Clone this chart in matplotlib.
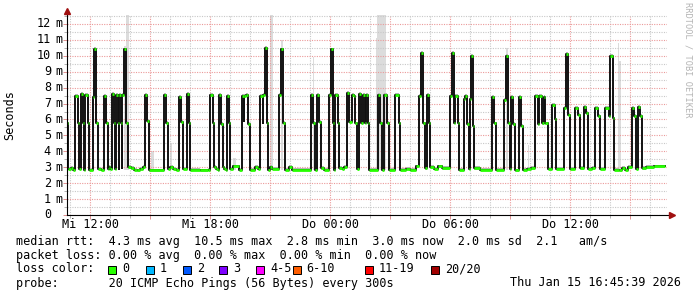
import numpy as np
import matplotlib
matplotlib.use("Agg")
import matplotlib.pyplot as plt
from matplotlib.patches import Rectangle

# median rtt (ms), step series: value holds from each time (hours since Mi 00:00) to the next
med_t = [10.80, 10.88, 11.05, 11.15, 11.27, 11.38, 11.47, 11.53, 11.63, 11.72, 11.77, 11.88, 11.97,
         12.13, 12.22, 12.30, 12.38, 12.55, 12.72, 12.80, 12.88, 12.97, 13.02, 13.10, 13.22, 13.27,
         13.30, 13.40, 13.45, 13.47, 13.55, 13.58, 13.62, 13.72, 13.80, 13.88, 14.05, 14.20, 14.35,
         14.50, 14.65, 14.75, 14.87, 14.97, 15.72, 15.80, 15.88, 16.00, 16.15, 16.30, 16.47, 16.57,
         16.65, 16.85, 16.97, 17.02, 17.50, 17.90, 18.02, 18.13, 18.22, 18.30, 18.38, 18.47, 18.55,
         18.63, 18.72, 18.78, 18.85, 18.97, 19.02, 19.15, 19.45, 19.60, 19.68, 19.72, 19.82, 19.90,
         20.00, 20.25, 20.38, 20.50, 20.63, 20.67, 20.75, 20.83, 20.92, 21.00, 21.12, 21.47, 21.55,
         21.67, 21.75, 21.95, 22.10, 23.05, 23.17, 23.25, 23.35, 23.47, 23.55, 23.70, 23.97, 24.05,
         24.13, 24.22, 24.27, 24.38, 24.47, 24.60, 24.72, 24.85, 24.97, 25.08, 25.18, 25.27, 25.33,
         25.43, 25.55, 25.63, 25.73, 25.80, 25.88, 25.97, 26.38, 26.50, 26.60, 26.72, 26.83, 26.93,
         27.27, 27.43, 27.52, 27.80, 28.00, 28.30, 28.47, 28.55, 28.67, 28.75, 28.85, 28.97, 29.00,
         29.20, 29.40, 29.60, 30.02, 30.10, 30.22, 30.27, 30.38, 30.47, 30.68, 30.77, 30.83, 30.93,
         31.00, 31.05, 31.13, 31.22, 31.50, 32.10, 32.22, 32.30, 32.72, 32.80, 32.92, 33.00, 33.05,
         33.17, 33.25, 33.47, 33.55, 33.63, 33.85, 34.05, 34.25, 34.38, 34.47, 34.60, 34.68, 34.77,
         34.88, 35.10, 35.23, 35.30, 35.72, 35.80, 35.92, 36.00, 36.27, 36.42, 36.50, 36.72, 36.80,
         36.88, 37.10, 37.27, 37.42, 37.50, 37.77, 37.93, 38.00, 38.13, 38.22, 38.45, 38.60, 38.75,
         38.90, 39.10, 39.22, 39.30, 39.38, 39.50, 39.58, 39.80, 40.20, 40.77]
med_v = [5.8, 2.9, 2.95, 2.85, 7.5, 5.8, 2.9, 7.6, 5.8, 2.85, 7.55, 5.8, 2.85,
         7.4, 10.45, 5.8, 2.9, 2.85, 7.5, 5.8, 2.9, 3.0, 2.9, 7.6, 5.8, 2.9,
         7.55, 5.8, 2.9, 7.55, 5.8, 2.95, 7.55, 10.4, 5.8, 3.0, 2.95, 2.85, 2.8,
         2.9, 3.0, 7.55, 5.9, 2.8, 7.55, 5.8, 2.9, 3.0, 2.9, 2.85, 7.4, 5.85,
         2.9, 7.6, 5.8, 2.85, 2.8, 2.85, 7.55, 5.8, 3.0, 2.9, 2.8, 7.55, 5.7,
         3.0, 2.9, 2.8, 7.5, 5.75, 2.9, 3.05, 2.85, 7.5, 5.9, 7.5, 7.55, 5.7,
         2.85, 3.0, 2.9, 7.5, 5.8, 7.55, 10.5, 5.8, 2.85, 3.0, 2.9, 7.55, 10.4,
         5.8, 2.85, 3.0, 2.85, 7.55, 5.8, 2.85, 7.55, 5.85, 2.95, 2.85, 7.55, 10.4,
         5.8, 2.85, 7.55, 5.8, 2.95, 2.9, 3.0, 7.65, 5.85, 7.55, 7.45, 5.75, 2.9,
         7.6, 5.8, 7.55, 5.8, 7.55, 5.8, 2.85, 7.55, 5.8, 2.85, 7.55, 5.8, 2.85,
         7.55, 5.75, 2.85, 2.9, 2.85, 3.05, 7.5, 10.2, 5.75, 2.95, 7.55, 5.8, 3.0,
         2.9, 3.05, 2.95, 7.5, 10.2, 5.8, 7.5, 5.8, 2.85, 7.3, 7.5, 5.7, 2.9,
         7.3, 10.0, 5.6, 2.95, 2.85, 7.4, 5.75, 2.85, 7.2, 10.0, 5.8, 2.9, 7.4,
         5.7, 2.8, 7.4, 5.6, 2.85, 2.9, 2.95, 7.45, 5.7, 7.45, 5.75, 7.4, 5.75,
         2.9, 6.9, 6.0, 2.9, 6.7, 10.1, 6.3, 2.9, 6.75, 6.3, 2.95, 6.8, 6.4,
         2.9, 2.95, 6.7, 6.2, 2.9, 6.7, 6.2, 10.0, 6.1, 2.85, 2.8, 2.95, 2.85,
         3.0, 6.7, 6.2, 2.9, 6.8, 6.2, 2.95, 3.0, 3.05, 3.05]

# smoke (max rtt of a 5 min slot, ms)
smoke_t = [13.72, 13.80, 13.88, 15.05, 15.13, 16.00, 19.15, 19.22, 21.00, 21.08, 21.55,
           23.13, 26.28, 26.37, 26.45, 26.53, 26.62, 26.70, 32.80, 33.88, 38.38, 38.47]
smoke_top = [10.6, 12.6, 12.6, 4.0, 4.0, 4.5, 3.6, 3.6, 12.6, 12.6, 11.0,
             9.95, 11.1, 12.6, 12.6, 12.6, 12.6, 12.6, 10.5, 4.4, 10.8, 9.7]

x_label_hours = [12, 18, 24, 30, 36]
x_labels = ["Mi 12:00", "Mi 18:00", "Do 00:00", "Do 06:00", "Do 12:00"]
y_label_values = list(range(13))

loss_labels = ["0", "1", "2", "3", "4-5", "6-10", "11-19", "20/20"]
loss_colors = ["#26ff00", "#00b8ff", "#0059ff", "#7e00ff", "#ff00ff", "#ff5e00", "#ff0000", "#a10000"]
loss_box_x = [108, 145.7, 182.7, 219.3, 256, 292.7, 365, 430.7]

line_rtt = "median rtt:  4.3 ms avg  10.5 ms max  2.8 ms min  3.0 ms now  2.0 ms sd  2.1   am/s"
line_loss = "packet loss: 0.00 % avg  0.00 % max  0.00 % min  0.00 % now"
line_probe = "probe:       20 ICMP Echo Pings (56 Bytes) every 300s"
stamp = "Thu Jan 15 16:45:39 2026"

W, H = 697, 297
mono = "DejaVu Sans Mono"
fs = 8.5

fig = plt.figure(figsize=(W / 100, H / 100), dpi=100)
ax = fig.add_axes([67 / W, 82 / H, 600 / W, 200 / H])
ax.set_xlim(10.85, 40.85)
ax.set_ylim(0, 200 / 15.92)
for s in ax.spines.values():
    s.set_visible(False)

ax.set_xticks(np.arange(12, 41, 3))
ax.set_xticks(np.arange(11, 41, 1), minor=True)
ax.set_yticks(np.arange(0, 13, 1))
ax.set_yticks(np.arange(0.5, 12.6, 0.5), minor=True)
ax.grid(which="minor", color="#c8c8c8", lw=0.8, ls=(0, (1, 1.2)), zorder=0)
ax.grid(which="major", color="#eb9a9a", lw=0.8, ls=(0, (1, 1.2)), zorder=0)
ax.tick_params(labelbottom=False, labelleft=False)
ax.tick_params(which="major", length=3, width=0.7, color="#e09090")
ax.tick_params(which="minor", length=2, width=0.7, color="#b0b0b0")

t = np.array(med_t)
v = np.array(med_v)

ax.bar(smoke_t, np.array(smoke_top) - 2.8, bottom=2.8, width=1 / 12, align="edge",
       color="#dcdcdc", lw=0, zorder=1)
ax.fill_between(t, v - 0.1, v + 0.12, step="post", color="#b4b4b4", lw=0, zorder=2)
ax.step(t, v, where="post", color="#111111", lw=1.4, zorder=3)
ax.hlines(v[:-1], t[:-1], t[1:], color="#26ff00", lw=2.0, zorder=4)

# axes with arrows
ax.plot([0, 0], [0, 1.015], transform=ax.transAxes, color="black", lw=0.8, clip_on=False, zorder=5)
ax.plot([0, 1.006], [0, 0], transform=ax.transAxes, color="black", lw=0.8, clip_on=False, zorder=5)
ax.plot([0], [1.02], transform=ax.transAxes, marker="^", ms=4.5, color="#a01010", clip_on=False, zorder=6)
ax.plot([1.008], [0], transform=ax.transAxes, marker=">", ms=4.5, color="#a01010", clip_on=False, zorder=6)

for h, lab in zip(x_label_hours, x_labels):
    ax.annotate(lab, xy=(h, 0), xycoords=("data", "axes fraction"), xytext=(0, -10),
                textcoords="offset pixels", ha="center", va="center", family=mono, fontsize=fs)

for yv in y_label_values:
    ax.annotate(str(yv), xy=(0, yv), xycoords=("axes fraction", "data"), xytext=(-16, 0),
                textcoords="offset pixels", ha="right", va="center", family=mono, fontsize=fs)
    if yv > 0:
        ax.annotate("m", xy=(0, yv), xycoords=("axes fraction", "data"), xytext=(-12, 0),
                    textcoords="offset pixels", ha="left", va="center", family=mono, fontsize=fs)

fig.text(10 / W, 1 - 115 / H, "Seconds", rotation=90, ha="center", va="center", family=mono, fontsize=fs)
fig.text(688 / W, 1 - 60 / H, "RRDTOOL / TOBI OETIKER", rotation=270, ha="center", va="center",
         family=mono, fontsize=6.2, color="#b4b4b4")

fig.text(16 / W, 1 - 241 / H, line_rtt, ha="left", va="center", family=mono, fontsize=fs)
fig.text(16 / W, 1 - 255 / H, line_loss, ha="left", va="center", family=mono, fontsize=fs)
fig.text(16 / W, 1 - 269 / H, "loss color:", ha="left", va="center", family=mono, fontsize=fs)
for bx, lab, col in zip(loss_box_x, loss_labels, loss_colors):
    fig.patches.append(Rectangle((bx / W, 1 - 273.5 / H), 8 / W, 8 / H, transform=fig.transFigure,
                                 facecolor=col, edgecolor="black", lw=0.7))
    fig.text((bx + 14) / W, 1 - 269 / H, lab, ha="left", va="center", family=mono, fontsize=fs)
fig.text(16 / W, 1 - 283 / H, line_probe, ha="left", va="center", family=mono, fontsize=fs)
fig.text(681 / W, 1 - 283 / H, stamp, ha="right", va="center", family=mono, fontsize=fs)

fig.savefig("out.png", dpi=100)
